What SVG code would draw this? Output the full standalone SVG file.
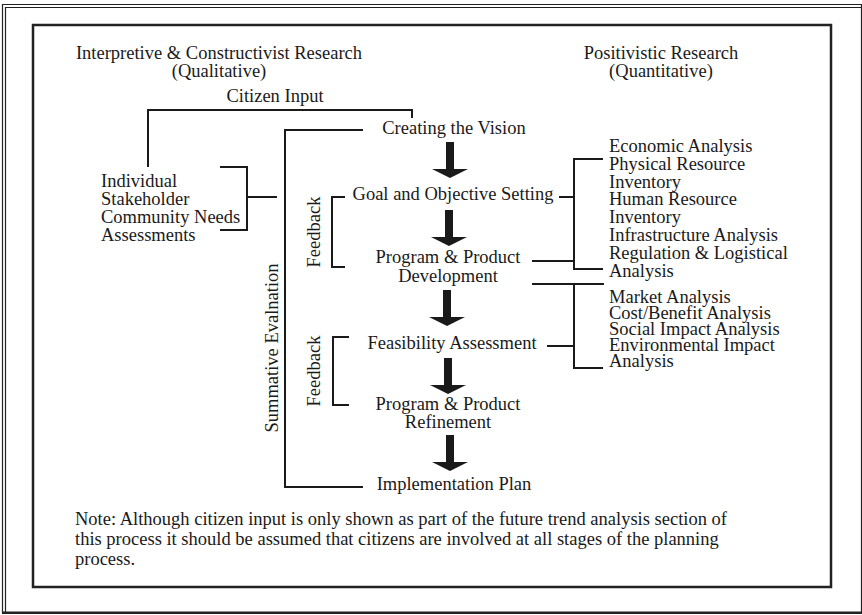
<svg xmlns="http://www.w3.org/2000/svg" width="862" height="615" viewBox="0 0 862 615">
<style>
text{font-family:"Liberation Serif","Times New Roman",serif;font-size:18.5px;fill:#1a1a1a}
.c{text-anchor:middle}
.ln{fill:none;stroke:#1a1a1a;stroke-width:2}
.fr{fill:none;stroke:#222}
.ar{fill:#1a1a1a}
</style>
<defs>
<path id="arrow" d="M-4,0 H4 V27 H18 L0,36 L-18,27 H-4 Z"/>
</defs>
<rect width="862" height="615" fill="#fff"/>
<g id="frame">
<path class="fr" stroke-width="1.2" d="M2.5,613 V4.5 H861.5 V613"/>
<path class="fr" stroke-width="1.2" d="M5.5,612 V7.5 H861.5"/>
<path class="fr" stroke-width="2.5" d="M2,612.8 H862"/>
<rect class="fr" stroke-width="2.5" x="33" y="25" width="798" height="562"/>
</g>
<g id="headers">
<text class="c" x="219" y="59">Interpretive &amp; Constructivist Research</text>
<text class="c" x="219" y="77">(Qualitative)</text>
<text class="c" x="661" y="59">Positivistic Research</text>
<text class="c" x="661" y="77">(Quantitative)</text>
</g>
<g id="connectors">
<path class="ln" d="M148,167 V110 H412 V118"/>
<path class="ln" d="M363,130 H285 V487 H363"/>
<path class="ln" d="M220,167 H247 V230 H220 M247,197 H277"/>
<path class="ln" d="M345,197 H332 V267 H345"/>
<path class="ln" d="M349,337 H333 V405 H349"/>
<path class="ln" d="M603,159 H574 V269 H603 M559,197 H574 M532,261 H574"/>
<path class="ln" d="M532,284 H604 M574,284 V368 H603 M547,346 H574"/>
<use class="ar" href="#arrow" x="450" y="142"/>
<use class="ar" href="#arrow" x="449" y="210"/>
<use class="ar" href="#arrow" x="447" y="290"/>
<use class="ar" href="#arrow" x="448" y="358"/>
<use class="ar" href="#arrow" x="450" y="435"/>
</g>
<g id="citizen-input"><text class="c" x="275" y="102">Citizen Input</text></g>
<g id="needs">
<text x="101" y="187">Individual</text>
<text x="101" y="205">Stakeholder</text>
<text x="101" y="223">Community Needs</text>
<text x="101" y="241">Assessments</text>
</g>
<g id="summative"><text class="c" transform="translate(278,348) rotate(-90)">Summative Evalnation</text></g>
<g id="feedback1"><text class="c" transform="translate(320,232) rotate(-90)">Feedback</text></g>
<g id="feedback2"><text class="c" transform="translate(320,371) rotate(-90)">Feedback</text></g>
<g id="vision"><text class="c" x="454" y="134">Creating the Vision</text></g>
<g id="goal"><text class="c" x="453" y="200">Goal and Objective Setting</text></g>
<g id="development">
<text class="c" x="448" y="263">Program &amp; Product</text>
<text class="c" x="448" y="282">Development</text>
</g>
<g id="feasibility"><text class="c" x="452" y="349">Feasibility Assessment</text></g>
<g id="refinement">
<text class="c" x="448" y="410">Program &amp; Product</text>
<text class="c" x="448" y="428">Refinement</text>
</g>
<g id="implementation"><text class="c" x="454" y="490">Implementation Plan</text></g>
<g id="analyses1">
<text x="609" y="152">Economic Analysis</text>
<text x="609" y="170">Physical Resource</text>
<text x="609" y="188">Inventory</text>
<text x="609" y="205">Human Resource</text>
<text x="609" y="223">Inventory</text>
<text x="609" y="241">Infrastructure Analysis</text>
<text x="609" y="259">Regulation &amp; Logistical</text>
<text x="609" y="277">Analysis</text>
</g>
<g id="analyses2">
<text x="609" y="303">Market Analysis</text>
<text x="609" y="319">Cost/Benefit Analysis</text>
<text x="609" y="335">Social Impact Analysis</text>
<text x="609" y="351">Environmental Impact</text>
<text x="609" y="367">Analysis</text>
</g>
<g id="note">
<text x="75" y="525">Note: Although citizen input is only shown as part of the future trend analysis section of</text>
<text x="75" y="545">this process it should be assumed that citizens are involved at all stages of the planning</text>
<text x="75" y="565">process.</text>
</g>
</svg>
